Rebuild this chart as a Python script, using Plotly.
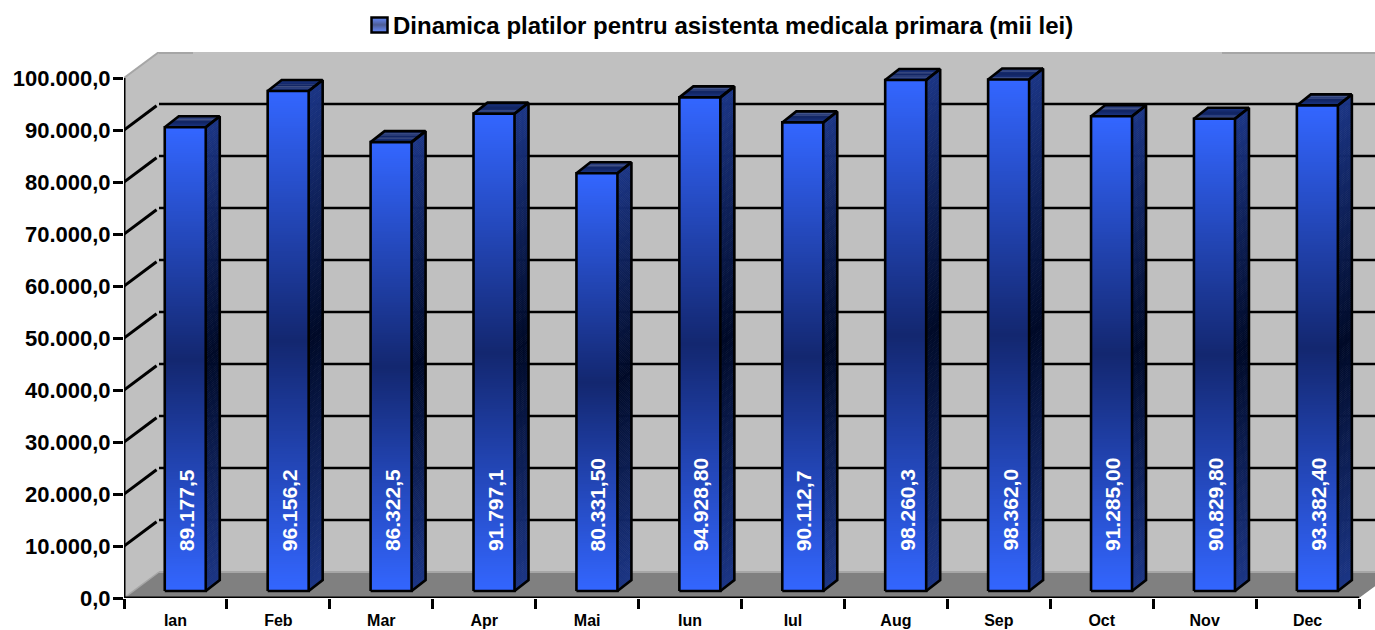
import plotly.graph_objects as go

months = ["Ian", "Feb", "Mar", "Apr", "Mai", "Iun", "Iul", "Aug", "Sep", "Oct", "Nov", "Dec"]
values = [89177.5, 96156.2, 86322.5, 91797.1, 80331.5, 94928.8, 90112.7, 98260.3, 98362.0, 91285.0, 90829.8, 93382.4]
labels = ["89.177,5", "96.156,2", "86.322,5", "91.797,1", "80.331,50", "94.928,80", "90.112,7",
          "98.260,3", "98.362,0", "91.285,00", "90.829,80", "93.382,40"]
y_ticks = [0, 10000, 20000, 30000, 40000, 50000, 60000, 70000, 80000, 90000, 100000]
title_text = "Dinamica platilor pentru asistenta medicala primara (mii lei)"

# Canvas geometry
W, H = 1375, 630
LEFT, RIGHT_PX, TOP, BOTTOM = 124, 1375, 52, 598
PX_PER_CAT = 102.92
PX_PER_VAL = 5.2 / 1000
xu = lambda px: px / PX_PER_CAT
yu = lambda px: px / PX_PER_VAL
X_END = xu(RIGHT_PX - LEFT)
Y_END = yu(BOTTOM - TOP)
WALL_DX, WALL_DY = xu(35), yu(26)
BAR_OFF_X, BAR_OFF_Y = xu(10), yu(7)
BAR_W = xu(41)
DEPTH_X, DEPTH_Y = xu(14), yu(11)
N_SEG, N_LEVEL = 240, 120


def lerp(c1, c2, t):
    return tuple(round(a + (b - a) * t) for a, b in zip(c1, c2))


def rgb(c):
    return f"rgb({c[0]},{c[1]},{c[2]})"


FRONT_END, FRONT_MID = (0x33, 0x66, 0xFF), (0x13, 0x27, 0x70)
SIDE_END, SIDE_MID = (0x1B, 0x35, 0x85), (0x00, 0x0A, 0x28)


def level(s):
    return round(abs(2 * s - 1) * (N_LEVEL - 1))


def front_col(lv):
    return rgb(lerp(FRONT_MID, FRONT_END, lv / (N_LEVEL - 1)))


def side_col(lv):
    return rgb(lerp(SIDE_MID, SIDE_END, lv / (N_LEVEL - 1)))


fig = go.Figure()
centers = [i + 0.5 + BAR_OFF_X - 0.002 for i in range(len(values))]

# Front faces: true bars, stacked from thin gradient slices
bx, bbase, bh, bc = [], [], [], []
for c, v in zip(centers, values):
    for k in range(N_SEG):
        s = (k + 0.5) / N_SEG
        bx.append(c)
        bbase.append(BAR_OFF_Y + v * k / N_SEG)
        bh.append(v / N_SEG)
        bc.append(front_col(level(s)))
fig.add_trace(go.Bar(x=bx, y=bh, base=bbase, width=BAR_W, marker=dict(color=bc, line=dict(width=0)),
                     hoverinfo="skip", showlegend=False))

# Side and top faces, grouped by gradient colour
groups = {}
for c, v in zip(centers, values):
    xr = c + BAR_W / 2
    xl = c - BAR_W / 2
    y0 = BAR_OFF_Y
    for k in range(N_SEG):
        s = (k + 0.5) / N_SEG
        a = y0 + v * k / N_SEG
        b = y0 + v * (k + 1.3) / N_SEG
        b = min(b, y0 + v)
        g = groups.setdefault(level(s), ([], []))
        g[0].extend([xr, xr + DEPTH_X, xr + DEPTH_X, xr, xr, None])
        g[1].extend([a, a + DEPTH_Y, b + DEPTH_Y, b, a, None])
    top = y0 + v
    for k in range(10):
        u0, u1 = k / 10, min(1, (k + 1.15) / 10)
        s = (k + 0.5) / 10
        lv = round((0.62 + 0.38 * abs(2 * s - 1)) * (N_LEVEL - 1))
        g = groups.setdefault(lv, ([], []))
        g[0].extend([xl + DEPTH_X * u0, xr + DEPTH_X * u0, xr + DEPTH_X * u1, xl + DEPTH_X * u1, xl + DEPTH_X * u0, None])
        g[1].extend([top + DEPTH_Y * u0, top + DEPTH_Y * u0, top + DEPTH_Y * u1, top + DEPTH_Y * u1, top + DEPTH_Y * u0, None])
for lv in sorted(groups):
    gx, gy = groups[lv]
    fig.add_trace(go.Scatter(x=gx, y=gy, mode="lines", fill="toself", fillcolor=side_col(lv),
                             line=dict(width=0), hoverinfo="skip", showlegend=False))

# Black outlines of each block
ox, oy = [], []
for c, v in zip(centers, values):
    xl, xr = c - BAR_W / 2, c + BAR_W / 2
    y0, y1 = BAR_OFF_Y, BAR_OFF_Y + v
    ox += [xl, xr, xr, xl, xl, None,
           xr, xr + DEPTH_X, xr + DEPTH_X, xr, None,
           xl, xl + DEPTH_X, xr + DEPTH_X, None,
           xr, xr + DEPTH_X, None]
    oy += [y0, y0, y1, y1, y0, None,
           y0, y0 + DEPTH_Y, y1 + DEPTH_Y, y1, None,
           y1, y1 + DEPTH_Y, y1 + DEPTH_Y, None,
           y1, y1 + DEPTH_Y, None]
fig.add_trace(go.Scatter(x=ox, y=oy, mode="lines", line=dict(color="#000000", width=2.6),
                         hoverinfo="skip", showlegend=False))

# Axis lines on an overlaying axis that also carries the tick marks between categories
n = len(months)
fig.add_trace(go.Scatter(x=[0, 0, n], y=[max(y_ticks), 0, 0], xaxis="x2", mode="lines",
                         line=dict(color="#000000", width=3), cliponaxis=False,
                         hoverinfo="skip", showlegend=False))

# Walls, floor, gridlines
shapes = []


def poly(pts, fill):
    d = "M " + " L ".join(f"{x},{y}" for x, y in pts) + " Z"
    shapes.append(dict(type="path", path=d, xref="x", yref="y", fillcolor=fill, line=dict(width=0), layer="below"))


def seg(x0, y0, x1, y1, color, width):
    shapes.append(dict(type="line", x0=x0, y0=y0, x1=x1, y1=y1, xref="x", yref="y",
                       line=dict(color=color, width=width), layer="below"))


top_v = max(y_ticks)
poly([(WALL_DX, WALL_DY), (X_END + 1, WALL_DY), (X_END + 1, Y_END), (WALL_DX, Y_END)], "#C0C0C0")
poly([(0, 0), (WALL_DX, WALL_DY), (WALL_DX, Y_END), (0, top_v)], "#C0C0C0")
poly([(0, 0), (n, 0), (n + WALL_DX, WALL_DY), (WALL_DX, WALL_DY)], "#808080")
seg(WALL_DX, WALL_DY, X_END, WALL_DY, "#A6A6A6", 2)
seg(0, 0, WALL_DX, WALL_DY, "#A6A6A6", 1.5)
seg(0, top_v, WALL_DX, Y_END, "#A6A6A6", 2)
seg(WALL_DX, Y_END - yu(0.8), WALL_DX + xu(34), Y_END - yu(0.8), "#A6A6A6", 2.5)
seg(xu(1222 - LEFT), Y_END - yu(0.8), X_END, Y_END - yu(0.8), "#A6A6A6", 2.5)
for v in y_ticks[1:-1]:
    seg(0, v, WALL_DX * 0.93, v + WALL_DY * 0.93, "#000000", 3)
    seg(WALL_DX, v + WALL_DY, X_END, v + WALL_DY, "#000000", 2.6)

# Title key swatch
SW_L, SW_R, SW_T, SW_B = 371.5, 387.5, 17.5, 32.5
for k in range(15):
    s = (k + 0.5) / 15
    t0 = SW_T + (SW_B - SW_T) * k / 15
    t1 = SW_T + (SW_B - SW_T) * (k + 1) / 15
    shapes.append(dict(type="rect", xref="paper", yref="paper",
                       x0=(SW_L - LEFT) / (RIGHT_PX - LEFT), x1=(SW_R - LEFT) / (RIGHT_PX - LEFT),
                       y0=(BOTTOM - t0) / (BOTTOM - TOP), y1=(BOTTOM - t1) / (BOTTOM - TOP),
                       fillcolor=front_col(level(s)), line=dict(width=0)))
shapes.append(dict(type="rect", xref="paper", yref="paper",
                   x0=(SW_L - LEFT) / (RIGHT_PX - LEFT), x1=(SW_R - LEFT) / (RIGHT_PX - LEFT),
                   y0=(BOTTOM - SW_T) / (BOTTOM - TOP), y1=(BOTTOM - SW_B) / (BOTTOM - TOP),
                   fillcolor="rgba(0,0,0,0)", line=dict(color="#000000", width=2.5)))

# Value labels rotated inside the bars
annotations = [
    dict(x=c + xu(1), y=yu(45), xref="x", yref="y", text=t, showarrow=False, textangle=-90,
         xanchor="center", yanchor="bottom",
         font=dict(family="Liberation Sans", size=21, color="#FFFFFF", weight=700))
    for c, t in zip(centers, labels)
]

FONT = "Liberation Sans"
fig.update_layout(
    width=W, height=H, autosize=False,
    margin=dict(l=LEFT, r=W - RIGHT_PX, t=TOP, b=H - BOTTOM, pad=0),
    paper_bgcolor="#FFFFFF", plot_bgcolor="#FFFFFF",
    barmode="overlay", bargap=0, showlegend=False, separators=",.",
    title=dict(text=title_text, x=393 / W, xanchor="left", xref="container",
               y=1 - 26 / H, yanchor="middle", yref="container", automargin=False,
               font=dict(family=FONT, size=24, color="#000000", weight=700)),
    xaxis=dict(range=[0, X_END], tickmode="array", tickvals=[i + 0.5 for i in range(n)], ticktext=months,
               ticks="outside", ticklen=8, tickcolor="rgba(0,0,0,0)", showgrid=False, zeroline=False,
               showline=False, fixedrange=True, tickangle=0, automargin=False,
               tickfont=dict(family=FONT, size=16, color="#000000", weight=700)),
    xaxis2=dict(range=[0, X_END], overlaying="x", side="bottom", anchor="y", tickmode="array",
                tickvals=list(range(n + 1)), ticks="outside", ticklen=10, tickwidth=3, tickcolor="#000000",
                showticklabels=False, showgrid=False, zeroline=False, showline=False, fixedrange=True,
                automargin=False),
    yaxis=dict(range=[0, Y_END], tickmode="array", tickvals=y_ticks, tickformat=",.1f",
               ticks="outside", ticklen=10, tickwidth=3, tickcolor="#000000", showgrid=False, zeroline=False,
               showline=False, fixedrange=True, automargin=False, ticklabelstandoff=-2,
               tickfont=dict(family=FONT, size=22, color="#000000", weight=700)),
    shapes=shapes, annotations=annotations,
)

fig.write_html("out.html", config={"displayModeBar": False},
               post_script="document.body.style.margin='0';")
